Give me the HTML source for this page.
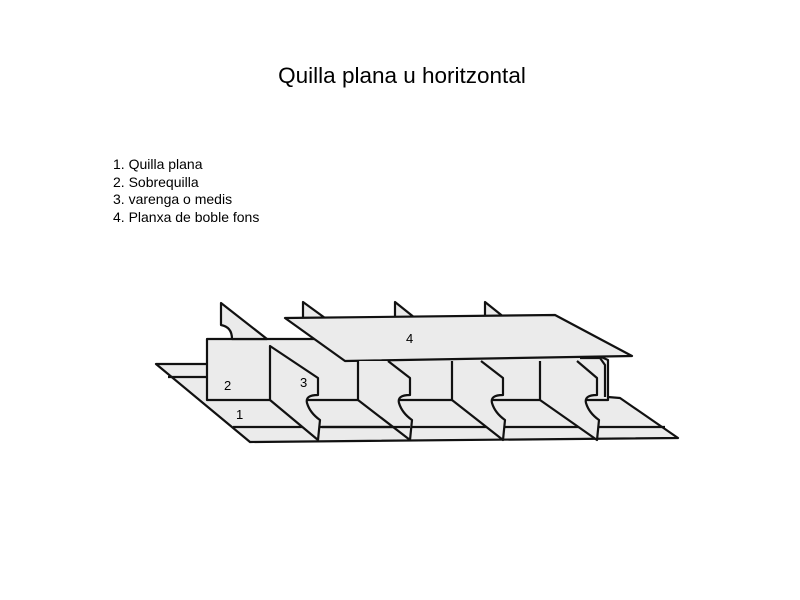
<!DOCTYPE html>
<html><head><style>
body{margin:0;width:800px;height:600px;background:#fff;overflow:hidden;font-family:"Liberation Sans",Arial,sans-serif}
.t{position:absolute;left:0;width:804px;top:63px;text-align:center;font-size:22.5px;color:#000}
.l{position:absolute;left:113px;top:156px;font-size:14px;line-height:17.5px;color:#000}
svg{position:absolute;left:0;top:0}
</style></head><body>
<div class="t">Quilla plana u horitzontal</div>
<div class="l">1. Quilla plana<br>2. Sobrequilla<br>3. varenga o medis<br>4. Planxa de boble fons</div>
<svg width="800" height="600" viewBox="0 0 800 600">
<g fill="#ebebeb" stroke="#111" stroke-width="2.2" stroke-linejoin="round">
<polygon points="156,364 207,364 620,398 678,438 250,442"/>
<line x1="168" y1="377" x2="207" y2="377"/>
<line x1="233" y1="427" x2="665" y2="427"/>
<polygon points="207,339 560,339 608,360 608,400 207,400"/>
<path d="M221,303 L221,325 Q232,327 232,339 L267,339 Z"/>
<path d="M303,302 L303,318 L325,318 Z"/>
<path d="M395,302 L395,318 L415,318 Z"/>
<path d="M485,302 L485,318 L505,318 Z"/>
<polygon points="285,318 555,315 632,356 345,361"/>
<path d="M270,346 L318,378 L318,395 Q305,395 307,403 Q310,413 320,420 L318,440 L270,400 Z"/>
<path d="M358,361 L358,400 L410,440 L412,420 Q402,413 399,403 Q397,395 410,395 L410,378 L388,361"/>
<path d="M452,361 L452,400 L503,440 L505,420 Q495,413 492,403 Q490,395 503,395 L503,378 L481,361"/>
<path d="M540,361 L540,400 L597,440 L599,420 Q589,413 586,403 Q584,395 597,395 L597,378 L577,361"/>
<path d="M580,358 L600,358 L605,365 L605,397" fill="none"/>
<line x1="322" y1="427" x2="410" y2="427"/>
</g>
<g font-family="Liberation Sans,Arial,sans-serif" font-size="13" fill="#000">
<text x="224" y="390">2</text>
<text x="300" y="387">3</text>
<text x="236" y="419">1</text>
<text x="406" y="343">4</text>
</g>
</svg>
</body></html>
